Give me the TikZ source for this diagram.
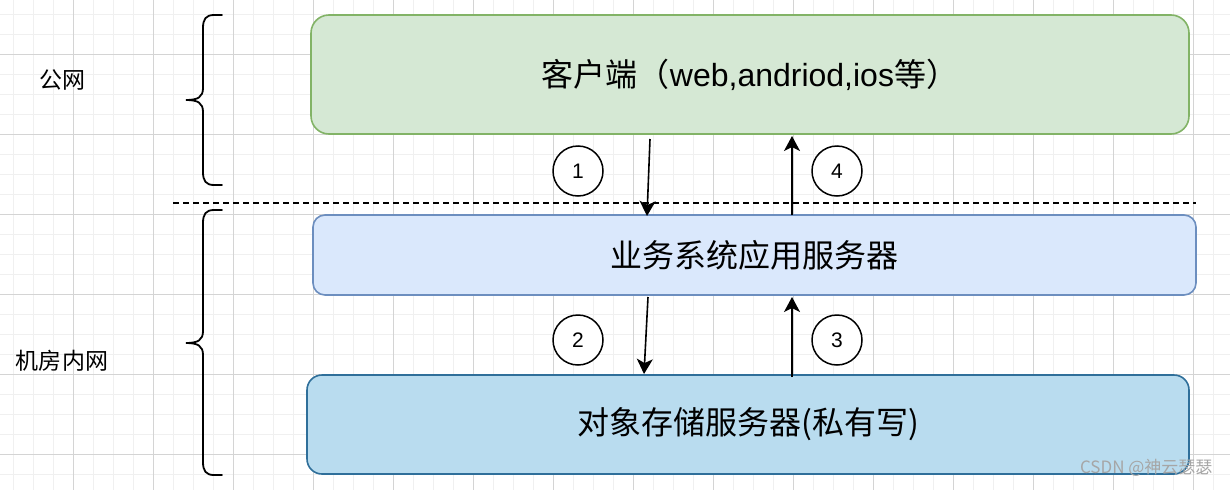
\documentclass[tikz,border=0pt]{standalone}
\usepackage{fontspec}
\setmainfont{Liberation Sans}
\newfontfamily\cjk{Noto Sans CJK SC}
\usetikzlibrary{arrows.meta}
\definecolor{gminor}{HTML}{F0F0F0}
\definecolor{gmajor}{HTML}{D4D4D4}
\definecolor{cfill}{HTML}{D5E8D4}
\definecolor{cdraw}{HTML}{82B366}
\definecolor{bfill}{HTML}{DAE8FC}
\definecolor{bdraw}{HTML}{6C8EBF}
\definecolor{sfill}{HTML}{B9DCEF}
\definecolor{sdraw}{HTML}{2F6F9A}
\tikzset{
  box/.style={draw, line width=1.6pt, outer sep=0pt, inner sep=0pt, align=center,
    font=\fontsize{32}{38}\selectfont},
  numc/.style={draw, circle, line width=1.5pt, fill=white, minimum size=50pt, inner sep=0pt,
    font=\fontsize{21}{24}\selectfont},
  conn/.style={line width=1.6pt, -{Stealth[length=15pt,width=16pt,inset=4pt]}},
  brace/.style={line width=1.8pt, line cap=round},
  side/.style={font=\cjk\fontsize{23}{27}\selectfont}
}
\begin{document}
\begin{tikzpicture}[x=1pt,y=-1pt]
\useasboundingbox (0,0) rectangle (1230,490);
\fill[white] (0,0) rectangle (1230,490);
% grid
\foreach \x in {13,33,...,1230} \draw[gminor, line width=1pt] (\x,0) -- (\x,490);
\foreach \y in {14,34,...,490} \draw[gminor, line width=1pt] (0,\y) -- (1230,\y);
\foreach \x in {73,153,...,1230} \draw[gmajor, line width=1pt] (\x,0) -- (\x,490);
\foreach \y in {54,134,...,490} \draw[gmajor, line width=1pt] (0,\y) -- (1230,\y);

% boxes
\node[box, fill=cfill, draw=cdraw, rounded corners=18pt, minimum width=878pt, minimum height=119pt]
  (client) at (750,74.5) {\cjk 客户端（\rmfamily web,andriod,ios\cjk 等）};
\node[box, fill=bfill, draw=bdraw, rounded corners=12pt, minimum width=883pt, minimum height=80pt]
  (biz) at (754.5,255) {\cjk 业务系统应用服务器};
\node[box, fill=sfill, draw=sdraw, rounded corners=15pt, minimum width=882pt, minimum height=99pt]
  (store) at (748,424.5) {\cjk 对象存储服务器(私有写)};

% dashed separator
\coordinate (dL) at (173,203);
\coordinate (dR) at (1196,203);
\draw[line width=1.5pt, dash pattern=on 6pt off 4pt] (dL) -- (dR);

% braces
\draw[brace] (222,15) -- (214,15) .. controls (206,15) and (203,19) .. (203,28) -- (203,88)
  .. controls (203,97) and (198,100) .. (186,100)
  .. controls (198,100) and (203,103) .. (203,112) -- (203,172)
  .. controls (203,181) and (206,185) .. (214,185) -- (222,185);
\draw[brace] (222,210) -- (214,210) .. controls (206,210) and (203,214) .. (203,223) -- (203,331)
  .. controls (203,340) and (198,343) .. (186,343)
  .. controls (198,343) and (203,346) .. (203,355) -- (203,462)
  .. controls (203,471) and (206,475) .. (214,475) -- (222,475);

% side labels
\node[side] (pub) at (62,80) {公网};
\node[side] (intra) at (62,361) {机房内网};

% connectors
\coordinate (a1s) at ([xshift=-100pt,yshift=-5pt]client.south);
\coordinate (a1e) at ([xshift=-107.5pt,yshift=-1pt]biz.north);
\draw[conn] (a1s) -- (a1e);
\coordinate (a4s) at ([xshift=37.5pt]biz.north);
\coordinate (a4e) at ([xshift=42pt,yshift=-2pt]client.south);
\draw[conn] (a4s) -- (a4e);
\coordinate (a2s) at ([xshift=-106.5pt,yshift=-2pt]biz.south);
\coordinate (a2e) at ([xshift=-104pt,yshift=1pt]store.north);
\draw[conn] (a2s) -- (a2e);
\coordinate (a3s) at ([xshift=44pt,yshift=-2pt]store.north);
\coordinate (a3e) at ([xshift=37.5pt,yshift=-2pt]biz.south);
\draw[conn] (a3s) -- (a3e);

% numbered circles
\node[numc] (c1) at (578,171) {1};
\node[numc] (c4) at (837,171) {4};
\node[numc] (c2) at (578,340) {2};
\node[numc] (c3) at (837,340) {3};

% watermark
\node[anchor=east, text=gray!70, font=\cjk\fontsize{17}{19}\selectfont] (wm) at (1216,468) {CSDN @神云瑟瑟};
\end{tikzpicture}
\end{document}
